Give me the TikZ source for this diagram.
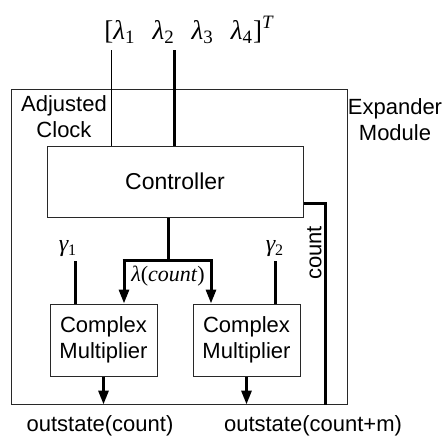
\documentclass[tikz,border=0pt]{standalone}
\usepackage{fontspec}
\setmainfont{Liberation Sans}
\newfontfamily\mathserif{Liberation Serif}
\usepackage{graphicx}
\usetikzlibrary{arrows.meta, positioning, calc}
\definecolor{lineaGris}{RGB}{40,40,40}
\newcommand{\sym}[2]{{\mathserif\itshape #1}\textsubscript{\mathserif #2}}
\tikzset{
  em/frame/.style={rectangle, draw=lineaGris, fill=none, line width=0.5pt,
    minimum width=168pt, minimum height=157.5pt, inner sep=0pt},
  em/ctrl/.style={rectangle, draw=lineaGris, fill=white, line width=0.5pt,
    minimum width=128pt, minimum height=35.5pt, inner sep=0pt,
    font=\fontsize{11.5}{13}\selectfont},
  em/mult/.style={rectangle, draw=lineaGris, fill=white, line width=0.5pt,
    minimum width=53.5pt, minimum height=36pt, inner sep=0pt, align=center,
    font=\fontsize{11}{13}\selectfont},
  em/txt/.style={inner sep=0pt, align=center, font=\fontsize{11}{13}\selectfont},
  em/sym/.style={inner sep=0pt, font=\fontsize{12}{14}\selectfont},
  em/wire/.style={line width=0.5pt, draw=black},
  em/bus/.style={line width=1.5pt, draw=black},
  em/arr/.style={-{Triangle[length=7pt,width=5pt]}, line width=1.5pt,
    draw=black}
}
\begin{document}
\begin{tikzpicture}[x=0.5pt, y=-0.5pt]
  \useasboundingbox (0,0) rectangle (445,436);
  \node[em/frame] at (179,246.5) (exp) {};
  \node[em/ctrl]  at (175,181.5) (ctrl) {Controller};
  \node[em/mult]  at (103.5,340) (m1) {Complex\\Multiplier};
  \node[em/mult]  at (246.5,340) (m2) {Complex\\Multiplier};

  \node[em/sym, font=\fontsize{13.5}{15}\selectfont] at (189,30) (vec)
        {{\mathserif[}\sym{λ}{1}\hspace{8.5pt}\sym{λ}{2}\hspace{8.5pt}%
         \sym{λ}{3}\hspace{8.5pt}\sym{λ}{4}{\mathserif]}%
         \textsuperscript{\mathserif\itshape T}};
  \node[em/txt] at (64,117)  (clk) {Adjusted\\Clock};
  \node[em/txt] at (395,120) (mod) {Expander\\Module};
  \node[em/sym] at (68,249)  (g1)  {\sym{γ}{1}};
  \node[em/sym] at (275,249) (g2)  {\sym{γ}{2}};
  \node[em/sym, font=\fontsize{11}{13}\selectfont] at (168,276) (lc)
        {{\mathserif\itshape λ}{\mathserif(\itshape count\/\upshape)}};
  \node[em/txt, anchor=east] at (322,253) (cnt) {\rotatebox{90}{count}};
  \node[em/txt] at (100,426) (o1) {outstate(count)};
  \node[em/txt] at (313,426) (o2) {outstate(count+m)};

  \coordinate (clkin) at (111,50);
  \coordinate (lamin) at (174,50);
  \coordinate (br)    at (168,260);
  \coordinate (brL)   at (124,260);
  \coordinate (brR)   at (211,260);
  \coordinate (g1in)  at (75,261);
  \coordinate (g2in)  at (275,261);
  \coordinate (cbus)  at (325,203);

  \draw[em/wire] (clkin) -- (clkin |- ctrl.north);
  \draw[em/bus]  (lamin) -- (lamin |- ctrl.north);
  % lambda(count) se reparte a los dos multiplicadores
  \draw[em/bus]  (br |- ctrl.south) -- (br);
  \draw[em/bus]  ([xshift=-0.75pt]brL) -- ([xshift=0.75pt]brR);
  \draw[em/arr]  (brL) -- (brL |- m1.north);
  \draw[em/arr]  (brR) -- (brR |- m2.north);
  \draw[em/bus]  (g1in) -- (g1in |- m1.north);
  \draw[em/bus]  (g2in) -- (g2in |- m2.north);
  \draw[em/bus]  (ctrl.east |- cbus) -| (cbus |- exp.south);
  \draw[em/arr]  (m1.south) -- (m1.south |- exp.south);
  \draw[em/arr]  (m2.south) -- (m2.south |- exp.south);
\end{tikzpicture}
\end{document}
